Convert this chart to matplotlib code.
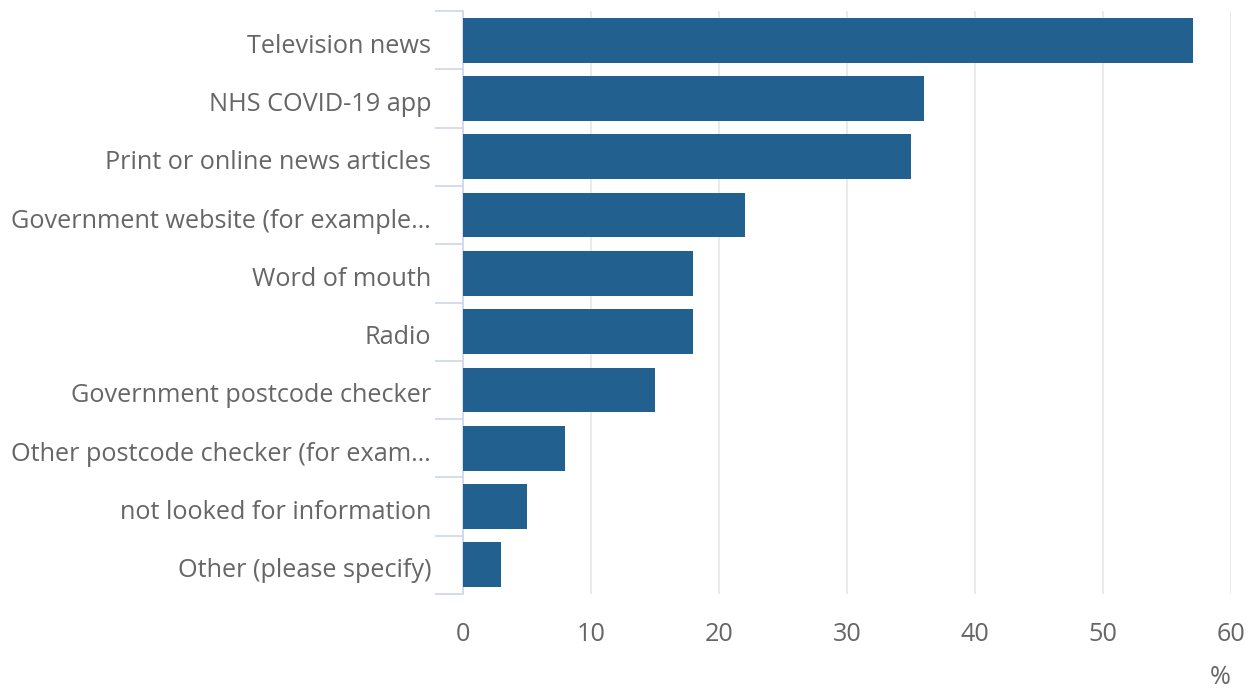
import matplotlib
matplotlib.use("Agg")
import matplotlib.pyplot as plt
from matplotlib.ticker import FixedLocator
from matplotlib.transforms import ScaledTranslation

categories = ["Television news", "NHS COVID-19 app", "Print or online news articles",
              "Government website (for example…", "Word of mouth", "Radio",
              "Government postcode checker", "Other postcode checker (for exam…",
              "not looked for information", "Other (please specify)"]
values = [57, 36, 35, 22, 18, 18, 15, 8, 5, 3]
xticks = [0, 10, 20, 30, 40, 50, 60]

plt.rcParams['font.family'] = ['Open Sans', 'DejaVu Sans']

W, H = 1255, 688
fig = plt.figure(figsize=(W / 100, H / 100), dpi=100)
ax = fig.add_axes([463 / W, 1 - 594 / H, (1231 - 463) / W, (594 - 11) / H])

n = len(categories)
pos = list(range(n))
ax.barh(pos, values, height=0.77, color="#22608f", zorder=3)
ax.set_ylim(n - 0.5, -0.5)
ax.set_xlim(0, 60)

ax.set_yticks(pos)
ax.set_yticklabels(categories, fontsize=18.2, color="#666666")
ax.yaxis.set_minor_locator(FixedLocator([i - 0.5 for i in range(n + 1)]))
ax.tick_params(axis="y", which="major", length=0, pad=23)
ax.tick_params(axis="y", which="minor", length=20, width=1.2, color="#ccd6eb")
off = ScaledTranslation(0, -3 / 100, fig.dpi_scale_trans)
for lab in ax.get_yticklabels():
    lab.set_transform(lab.get_transform() + off)

ax.set_xticks(xticks)
ax.set_xticklabels([str(t) for t in xticks], fontsize=18.2, color="#666666")
ax.tick_params(axis="x", length=0, pad=20)
ax.grid(axis="x", color="#e6e6e6", linewidth=1.2, zorder=0)

for s in ["top", "right", "bottom"]:
    ax.spines[s].set_visible(False)
ax.spines["left"].set_color("#ccd6eb")
ax.spines["left"].set_linewidth(1.2)

fig.text(1220 / W, 1 - 677 / H, "%", fontsize=18.2, color="#666666", ha="center", va="center")

fig.savefig("out.png", dpi=100, facecolor="white")
